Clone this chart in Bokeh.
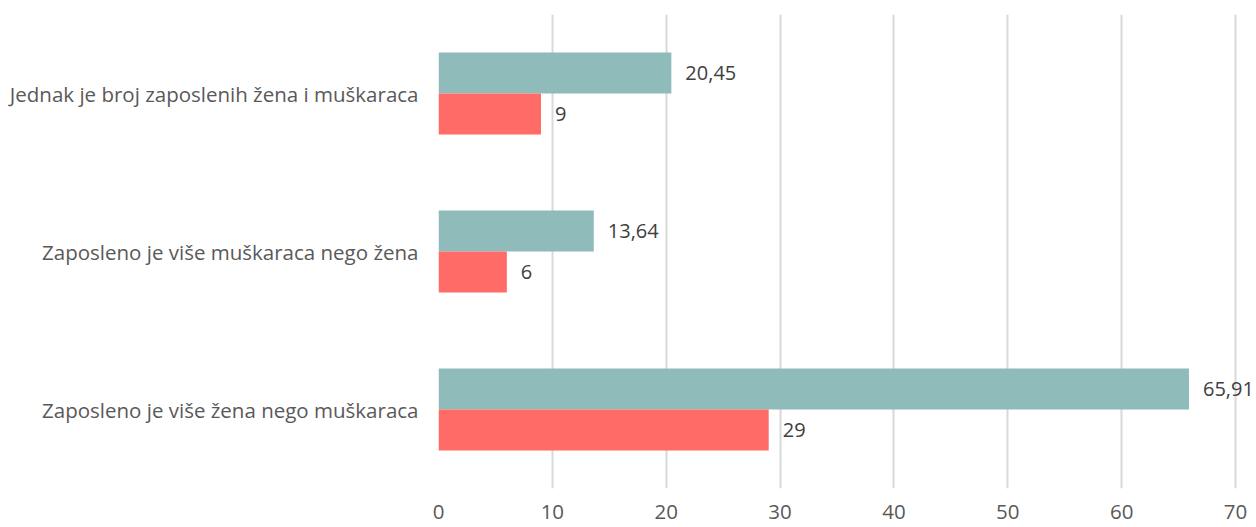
from bokeh.plotting import figure
from bokeh.models import ColumnDataSource, FixedTicker, LabelSet, Range1d
from bokeh.core.properties import value
from bokeh.transform import dodge
from bokeh.embed import file_html
from bokeh.resources import INLINE

categories = ["Zaposleno je više žena nego muškaraca",
              "Zaposleno je više muškaraca nego žena",
              "Jednak je broj zaposlenih žena i muškaraca"]
series_a = [65.91, 13.64, 20.45]
series_b = [29, 6, 9]
labels_a = ["65,91", "13,64", "20,45"]
labels_b = ["29", "6", "9"]
x_ticks = [0, 10, 20, 30, 40, 50, 60, 70]

src = ColumnDataSource(dict(cat=categories, a=series_a, b=series_b,
                            la=labels_a, lb=labels_b))

FONT = "Open Sans"

p = figure(y_range=categories, x_range=Range1d(0, 71.84),
           width=1256, height=527, output_backend="svg",
           toolbar_location=None, min_border_left=438, min_border_right=0,
           min_border_top=14, min_border_bottom=39)
p.outline_line_color = None

p.hbar(y=dodge("cat", 0.13, range=p.y_range), left=0, right="a", height=0.26,
       source=src, color="#8FBCBB", line_color=None)
p.hbar(y=dodge("cat", -0.13, range=p.y_range), left=0, right="b", height=0.26,
       source=src, color="#FF6B66", line_color=None)

for col, lab, off in (("a", "la", 0.13), ("b", "lb", -0.13)):
    ls = LabelSet(x=col, y=dodge("cat", off, range=p.y_range), text=lab, source=src,
                  x_offset=14, text_baseline="middle", text_align="left",
                  text_font=value(FONT), text_font_size="20px", text_color="#404040")
    p.add_layout(ls)

p.xaxis.ticker = FixedTicker(ticks=x_ticks)
p.xgrid.ticker = FixedTicker(ticks=x_ticks)
p.xgrid.grid_line_color = "#d9d9d9"
p.xgrid.grid_line_width = 2
p.ygrid.grid_line_color = None

for ax in (p.xaxis, p.yaxis):
    ax.axis_line_color = None
    ax.major_tick_line_color = None
    ax.minor_tick_line_color = None
    ax.major_label_text_font = FONT
    ax.major_label_text_font_size = "20.5px"
    ax.major_label_text_color = "#595959"
p.xaxis.major_label_standoff = 10
p.yaxis.major_label_standoff = 14

open("out.html", "w").write(file_html(p, INLINE))
